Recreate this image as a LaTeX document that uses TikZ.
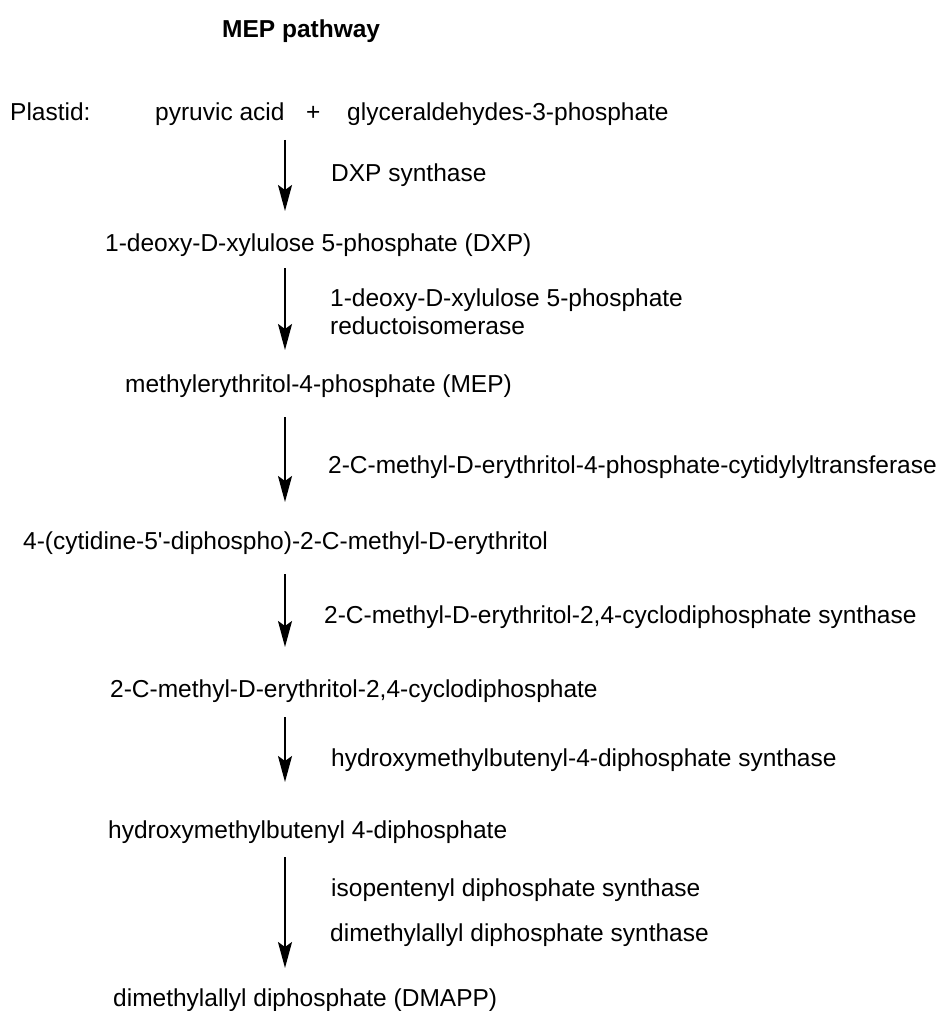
\documentclass[tikz,border=0pt]{standalone}
\usepackage{fontspec}
\setmainfont{Liberation Sans}
\usetikzlibrary{arrows.meta}
\newcommand{\sq}{{\XeTeXglyph\XeTeXcharglyph"27\relax}}
\begin{document}
\begin{tikzpicture}[x=1pt,y=-1pt,
  txt/.style={anchor=base west,inner sep=0pt,font=\fontsize{24.5}{28}\selectfont},
  ttl/.style={txt,font=\fontsize{24.5}{28}\selectfont\bfseries},
  rx/.style={line width=2pt,-{Stealth[length=26pt,width=14pt,inset=5pt]}}]
\useasboundingbox[fill=white] (0,0) rectangle (941,1011);
\node[ttl] (title) at (222,38) {MEP pathway};
\node[txt] (plastid) at (10,121) {Plastid:};
\node[txt] (pyr) at (155,121) {pyruvic acid};
\node[txt] (plus) at (306,121) {+};
\node[txt] (g3p) at (347,121) {glyceraldehydes-3-phosphate};
\node[txt] (e1) at (331,182) {DXP synthase};
\node[txt] (dxp) at (105,251) {1-deoxy-D-xylulose 5-phosphate (DXP)};
\node[txt] (e2a) at (330,306) {1-deoxy-D-xylulose 5-phosphate};
\node[txt] (e2b) at (330,334) {reductoisomerase};
\node[txt] (mep) at (125,392) {methylerythritol-4-phosphate (MEP)};
\node[txt] (e3) at (328,473) {2-C-methyl-D-erythritol-4-phosphate-cytidylyltransferase};
\node[txt] (cdp) at (23,549) {4-(cytidine-5\sq-diphospho)-2-C-methyl-D-erythritol};
\node[txt] (e4) at (324,623) {2-C-methyl-D-erythritol-2,4-cyclodiphosphate synthase};
\node[txt] (mecpp) at (110,697) {2-C-methyl-D-erythritol-2,4-cyclodiphosphate};
\node[txt] (e5) at (331,766) {hydroxymethylbutenyl-4-diphosphate synthase};
\node[txt] (hmbpp) at (108,838) {hydroxymethylbutenyl 4-diphosphate};
\node[txt] (e6a) at (331,896) {isopentenyl diphosphate synthase};
\node[txt] (e6b) at (330,941) {dimethylallyl diphosphate synthase};
\node[txt] (dmapp) at (113,1006) {dimethylallyl diphosphate (DMAPP)};
\coordinate (a1s) at (285,140); \coordinate (a1e) at (285,211);
\coordinate (a2s) at (285,268); \coordinate (a2e) at (285,350);
\coordinate (a3s) at (285,417); \coordinate (a3e) at (285,502);
\coordinate (a4s) at (285,574); \coordinate (a4e) at (285,647);
\coordinate (a5s) at (285,717); \coordinate (a5e) at (285,782);
\coordinate (a6s) at (285,857); \coordinate (a6e) at (285,968);
\draw[rx] (a1s) -- (a1e);
\draw[rx] (a2s) -- (a2e);
\draw[rx] (a3s) -- (a3e);
\draw[rx] (a4s) -- (a4e);
\draw[rx] (a5s) -- (a5e);
\draw[rx] (a6s) -- (a6e);
\end{tikzpicture}
\end{document}
